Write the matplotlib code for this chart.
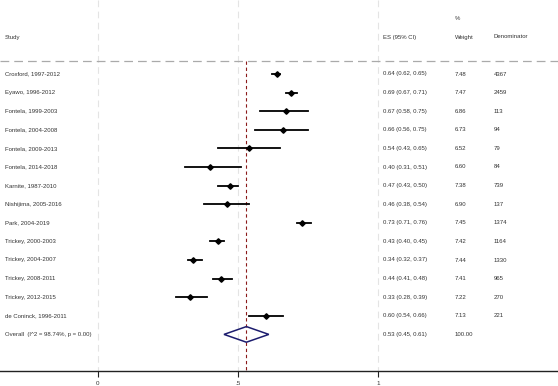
import matplotlib
matplotlib.use("Agg")
import matplotlib.pyplot as plt
import numpy as np

plt.rcParams['font.family'] = ['Liberation Sans', 'DejaVu Sans']

studies = ["Croxford, 1997-2012", "Eyawo, 1996-2012", "Fontela, 1999-2003",
           "Fontela, 2004-2008", "Fontela, 2009-2013", "Fontela, 2014-2018",
           "Karnite, 1987-2010", "Nishijima, 2005-2016", "Park, 2004-2019",
           "Trickey, 2000-2003", "Trickey, 2004-2007", "Trickey, 2008-2011",
           "Trickey, 2012-2015", "de Coninck, 1996-2011"]
es = [0.64, 0.69, 0.67, 0.66, 0.54, 0.40, 0.47, 0.46, 0.73, 0.43, 0.34, 0.44, 0.33, 0.60]
lo = [0.62, 0.67, 0.58, 0.56, 0.43, 0.31, 0.43, 0.38, 0.71, 0.40, 0.32, 0.41, 0.28, 0.54]
hi = [0.65, 0.71, 0.75, 0.75, 0.65, 0.51, 0.50, 0.54, 0.76, 0.45, 0.37, 0.48, 0.39, 0.66]
weights = ["7.48", "7.47", "6.86", "6.73", "6.52", "6.60", "7.38", "6.90", "7.45",
           "7.42", "7.44", "7.41", "7.22", "7.13"]
denoms = ["4367", "2459", "113", "94", "79", "84", "739", "137", "1374",
          "1164", "1330", "965", "270", "221"]
overall_label = "Overall  (I^2 = 98.74%, p = 0.00)"
overall_es, overall_lo, overall_hi = 0.53, 0.45, 0.61
overall_weight = "100.00"
xticks = [0, 0.5, 1]
xticklabels = ["0", ".5", "1"]

W, H = 558, 386
fig = plt.figure(figsize=(W / 100, H / 100), dpi=100)

# pixel mapping helpers for layout
x0_px, unit_px = 98, 280
row0_px, row_step = 74, 18.6
axis_px = 371
ax = fig.add_axes([0, (H - axis_px) / H, 1, axis_px / H])
ax.set_xlim((0 - x0_px) / unit_px, (W - x0_px) / unit_px)
ax.set_ylim((axis_px - row0_px) / row_step, (0 - row0_px) / row_step)

def px2x(px):
    return (px - x0_px) / unit_px

def py2y(py):
    return (py - row0_px) / row_step

for s in ['top', 'right', 'left']:
    ax.spines[s].set_visible(False)
ax.spines['bottom'].set_linewidth(1.0)
ax.spines['bottom'].set_color('#222222')
ax.set_yticks([])
ax.set_xticks(xticks)
ax.set_xticklabels(xticklabels, fontsize=4.5, color='#333333')
ax.tick_params(axis='x', length=4, width=0.8, pad=3, color='#222222')

ytop, ybot = ax.get_ylim()[1], ax.get_ylim()[0]
# vertical light gridlines
for xt in xticks:
    ax.plot([xt, xt], [ytop, ybot], color='#e4e4e4', lw=0.8, ls=(0, (6, 4)), zorder=0)

# horizontal header separator
ax.plot(ax.get_xlim(), [py2y(61)] * 2, color='#aaaaaa', lw=0.9, ls=(0, (7, 4)), zorder=1)

# overall red dashed line
ax.plot([overall_es, overall_es], [py2y(61), ybot], color='#8b1a1a', lw=0.8,
        ls=(0, (3, 2.5)), zorder=2)

n = len(studies)
rows = np.arange(n)
tfs = 4.35
tcol = '#333333'
for i in range(n):
    ax.plot([lo[i], hi[i]], [rows[i], rows[i]], color='black', lw=1.3, zorder=3)
    ax.plot(es[i], rows[i], marker='D', ms=2.8, color='black', zorder=4)
    ax.text(px2x(5), rows[i], studies[i], fontsize=tfs, color=tcol, va='center', ha='left')
    ax.text(px2x(383), rows[i], f"{es[i]:.2f} ({lo[i]:.2f}, {hi[i]:.2f})",
            fontsize=tfs, color=tcol, va='center', ha='left')
    ax.text(px2x(455), rows[i], weights[i], fontsize=tfs, color=tcol, va='center', ha='left')
    ax.text(px2x(494), rows[i], denoms[i], fontsize=tfs, color=tcol, va='center', ha='left')

orow = n
ax.fill([overall_lo, overall_es, overall_hi, overall_es, overall_lo],
        [orow, orow - 0.42, orow, orow + 0.42, orow], facecolor='none',
        edgecolor='#1c1c6e', lw=1.1, zorder=5)
ax.text(px2x(5), orow, overall_label, fontsize=tfs, color=tcol, va='center', ha='left')
ax.text(px2x(383), orow, f"{overall_es:.2f} ({overall_lo:.2f}, {overall_hi:.2f})",
        fontsize=tfs, color=tcol, va='center', ha='left')
ax.text(px2x(455), orow, overall_weight, fontsize=tfs, color=tcol, va='center', ha='left')

# headers
hy = py2y(37)
ax.text(px2x(5), hy, "Study", fontsize=tfs, color=tcol, va='center', ha='left')
ax.text(px2x(383), hy, "ES (95% CI)", fontsize=tfs, color=tcol, va='center', ha='left')
ax.text(px2x(455), py2y(19), "%", fontsize=tfs, color=tcol, va='center', ha='left')
ax.text(px2x(455), hy, "Weight", fontsize=tfs, color=tcol, va='center', ha='left')
ax.text(px2x(494), hy, "Denominator", fontsize=tfs, color=tcol, va='center', ha='left')

fig.savefig("out.png", dpi=100)
